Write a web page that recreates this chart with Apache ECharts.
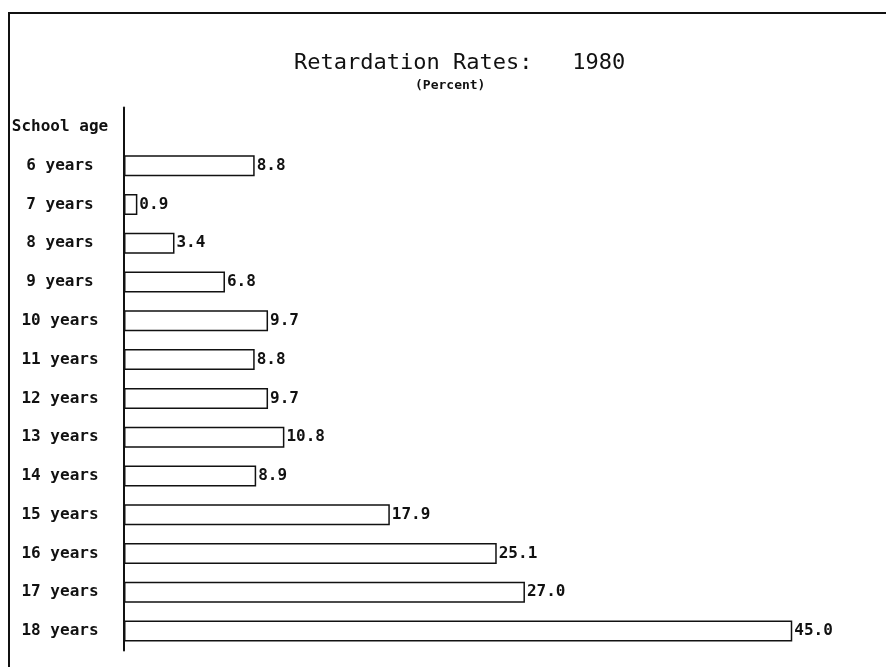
<!DOCTYPE html>
<html lang="en">
<head>
    <meta charset="UTF-8">
    <title>Retardation Rates: 1980</title>
    <style>
        html, body {
            margin: 0;
            padding: 0;
            background: #fff;
        }
        #chart {
            width: 886px;
            height: 667px;
        }
    </style>
</head>
<body>
    <div id="chart"></div>
    <script src="https://cdn.jsdelivr.net/npm/echarts@6/dist/echarts.min.js"></script>
    <script>
        // data
        const ageLabels = ['School age', '6 years', '7 years', '8 years', '9 years', '10 years', '11 years',
            '12 years', '13 years', '14 years', '15 years', '16 years', '17 years', '18 years'];
        const rates = ['-', 8.8, 0.9, 3.4, 6.8, 9.7, 8.8, 9.7, 10.8, 8.9, 17.9, 25.1, 27.0, 45.0];

        const mono = '"DejaVu Sans Mono", "Liberation Mono", monospace';

        const chart = echarts.init(document.getElementById('chart'));
        chart.setOption({
            backgroundColor: '#fff',
            animation: false,
            title: [
                {
                    text: 'Retardation Rates:   1980',
                    left: 289,
                    top: 47,
                    textStyle: { fontFamily: mono, fontSize: 22, fontWeight: 'normal', color: '#111' }
                },
                {
                    text: '(Percent)',
                    left: 410,
                    top: 74,
                    textStyle: { fontFamily: mono, fontSize: 13, fontWeight: 'bold', color: '#111' }
                }
            ],
            graphic: [{
                type: 'polyline',
                silent: true,
                shape: { points: [[9, 667], [9, 13], [886, 13]] },
                style: { stroke: '#111', lineWidth: 2, fill: null }
            }],
            grid: { left: 124, right: 19.5, top: 107.5, bottom: 16.5 },
            xAxis: {
                type: 'value',
                min: 0,
                max: 50,
                show: false
            },
            yAxis: {
                type: 'category',
                inverse: true,
                data: ageLabels,
                axisLine: { lineStyle: { color: '#111', width: 2 } },
                axisTick: { show: false },
                axisLabel: {
                    align: 'center',
                    margin: 64,
                    fontFamily: mono,
                    fontSize: 16,
                    fontWeight: 'bold',
                    color: '#111'
                }
            },
            series: [{
                type: 'bar',
                data: rates,
                barWidth: 21,
                itemStyle: { color: '#fff', borderColor: '#111', borderWidth: 1.5 },
                label: {
                    show: true,
                    position: 'right',
                    distance: 2,
                    fontFamily: mono,
                    fontSize: 16,
                    fontWeight: 'bold',
                    color: '#111',
                    formatter: p => Number(p.value).toFixed(1)
                }
            }]
        });

        window.addEventListener('resize', function () {
            chart.resize();
        });
    </script>
</body>
</html>
